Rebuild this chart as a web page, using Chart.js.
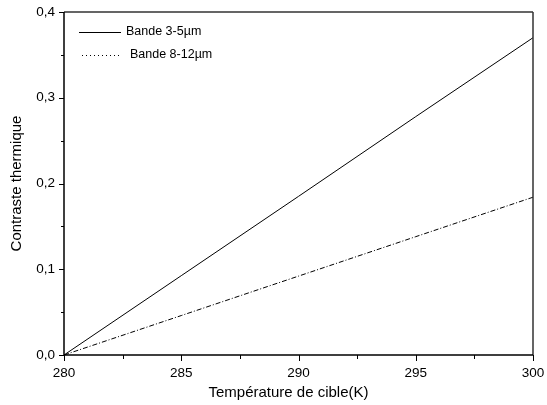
<!DOCTYPE html>
<html>
<head>
<meta charset="utf-8">
<script src="https://cdn.jsdelivr.net/npm/chart.js@4.4.1/dist/chart.umd.min.js"></script>
<style>
  html,body{margin:0;padding:0;background:#fff;}
  #wrap{width:547px;height:405px;position:relative;}
</style>
</head>
<body>
<div id="wrap"><canvas id="c"></canvas></div>
<script>
// values
const temps = [280, 285, 290, 295, 300];
const bande35 = [0, 0.0925, 0.185, 0.278, 0.370];
const bande812 = [0, 0.046, 0.092, 0.138, 0.184];
const xTicks = [280, 285, 290, 295, 300];
const yTicks = [0, 0.1, 0.2, 0.3, 0.4];
const legendLabels = ["Bande 3-5µm", "Bande 8-12µm"];
const xTitle = "Température de cible(K)";

const FONT = "'Liberation Sans', Arial, sans-serif";

function pts(xs, ys){ return xs.map((x,i)=>({x, y:ys[i]})); }

// frame, ticks (major + minor), x title (sits a bit left of centre) and the little legend
const framePlugin = {
  id: "frame",
  afterDraw(chart){
    const {ctx, chartArea:a, scales:{x, y}} = chart;
    ctx.save();
    // top + right frame
    ctx.lineWidth = 1.5;
    ctx.strokeStyle = "#333";
    ctx.beginPath();
    ctx.moveTo(a.left, a.top); ctx.lineTo(a.right, a.top);
    ctx.moveTo(a.right, a.top); ctx.lineTo(a.right, a.bottom);
    ctx.stroke();
    // axes
    ctx.strokeStyle = "#000";
    ctx.lineWidth = 1.5;
    ctx.beginPath();
    ctx.moveTo(a.left, a.top); ctx.lineTo(a.left, a.bottom); ctx.lineTo(a.right, a.bottom);
    ctx.stroke();
    // ticks
    ctx.lineWidth = 1;
    ctx.beginPath();
    for(let v = 280; v <= 300; v += 2.5){
      const px = Math.round(x.getPixelForValue(v)) + 0.5;
      const len = (v % 5 === 0) ? 6 : 4;
      ctx.moveTo(px, a.bottom); ctx.lineTo(px, a.bottom + len);
    }
    for(let v = 0; v <= 0.4001; v += 0.05){
      const py = Math.round(y.getPixelForValue(v)) + 0.5;
      const major = Math.abs(v*10 - Math.round(v*10)) < 1e-6;
      ctx.moveTo(a.left, py); ctx.lineTo(a.left - (major ? 5 : 3), py);
    }
    ctx.stroke();
    ctx.fillStyle = "#000";
    ctx.textBaseline = "middle";
    // x title
    ctx.font = "15px " + FONT;
    ctx.textAlign = "center";
    ctx.fillText(xTitle, (a.left + a.right) / 2 - 10, 393);
    // legend
    ctx.textAlign = "left";
    ctx.font = "12.5px " + FONT;
    ctx.beginPath();
    ctx.moveTo(79, 32.5); ctx.lineTo(121, 32.5);
    ctx.stroke();
    ctx.fillText(legendLabels[0], 126, 32);
    ctx.setLineDash([1, 3]);
    ctx.beginPath();
    ctx.moveTo(82, 55.5); ctx.lineTo(120, 55.5);
    ctx.stroke();
    ctx.setLineDash([]);
    ctx.fillText(legendLabels[1], 130, 55);
    ctx.restore();
  }
};

new Chart(document.getElementById("c"), {
  type: "scatter",
  data: {
    datasets: [
      { label: legendLabels[0], data: pts(temps, bande35), showLine: true,
        borderColor: "#000", borderWidth: 1, pointRadius: 0, fill: false },
      { label: legendLabels[1], data: pts(temps, bande812), showLine: true,
        borderColor: "#000", borderWidth: 1, borderDash: [5, 2, 1, 2], pointRadius: 0, fill: false }
    ]
  },
  options: {
    responsive: true,
    maintainAspectRatio: false,
    animation: false,
    layout: { padding: { left: 0, right: 14, top: 12, bottom: 0 } },
    plugins: { legend: { display: false }, tooltip: { enabled: false } },
    scales: {
      x: {
        type: "linear", min: 280, max: 300,
        afterBuildTicks: s => { s.ticks = xTicks.map(v => ({ value: v })); },
        afterFit: s => { s.height = 50; s.paddingLeft = 0; s.paddingRight = 0; },
        grid: { display: false, drawTicks: false },
        border: { display: false },
        ticks: { color: "#000", font: { family: FONT, size: 13.5 }, padding: 10, maxRotation: 0 },
        title: { display: false }
      },
      y: {
        type: "linear", min: 0, max: 0.4,
        afterBuildTicks: s => { s.ticks = yTicks.map(v => ({ value: v })); },
        afterFit: s => { s.width = 64; s.paddingTop = 0; s.paddingBottom = 0; },
        grid: { display: false, drawTicks: false },
        border: { display: false },
        ticks: { color: "#000", font: { family: FONT, size: 13.5 }, padding: 9,
                 callback: v => v.toFixed(1).replace(".", ",") },
        title: { display: true, text: "Contraste thermique", color: "#000",
                 font: { family: FONT, size: 15 }, padding: { top: 8, bottom: 0 } }
      }
    }
  },
  plugins: [framePlugin]
});
</script>
</body>
</html>
